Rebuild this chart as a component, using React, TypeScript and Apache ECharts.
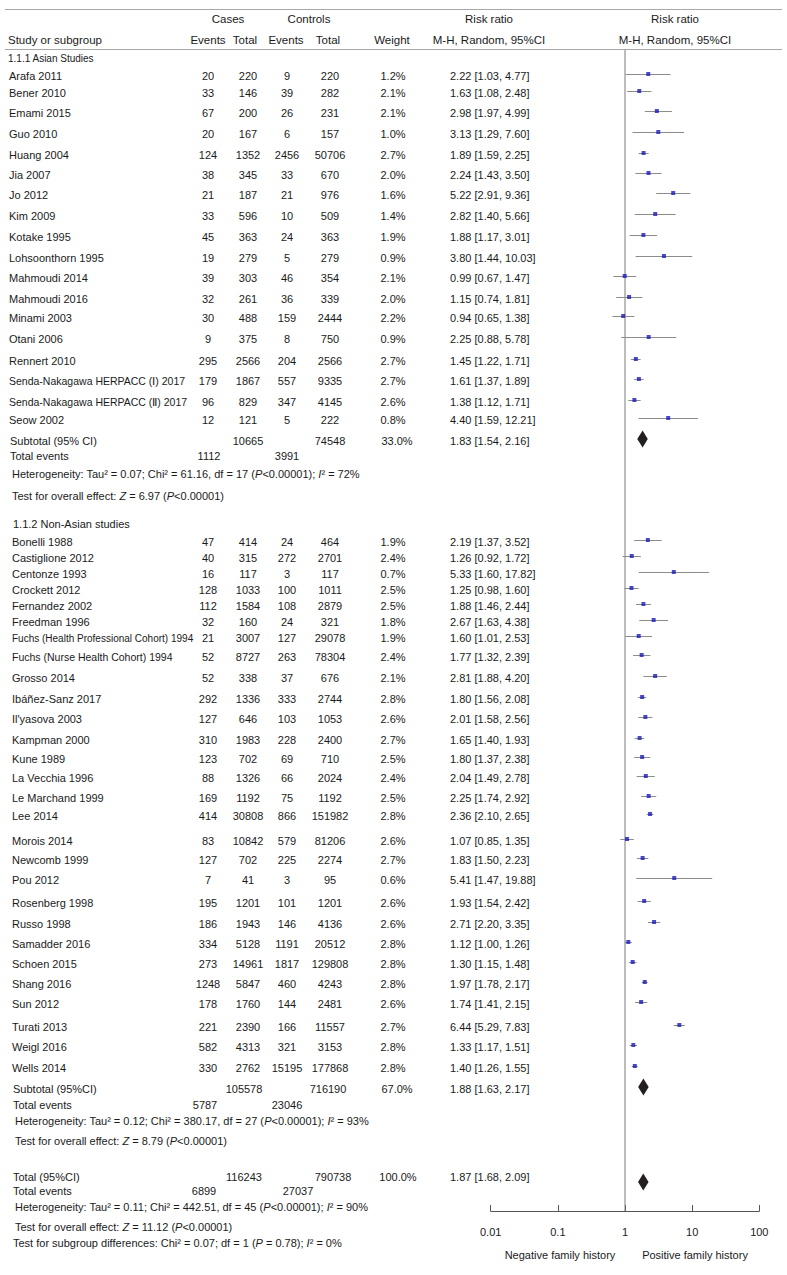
import React, { useEffect, useRef } from 'react';
import * as echarts from 'echarts';

// ---------------- DATA ----------------
const asianStudies = [
  'Arafa 2011', 'Bener 2010', 'Emami 2015', 'Guo 2010', 'Huang 2004', 'Jia 2007', 'Jo 2012',
  'Kim 2009', 'Kotake 1995', 'Lohsoonthorn 1995', 'Mahmoudi 2014', 'Mahmoudi 2016', 'Minami 2003',
  'Otani 2006', 'Rennert 2010', 'Senda-Nakagawa HERPACC (Ⅰ) 2017', 'Senda-Nakagawa HERPACC (Ⅱ) 2017', 'Seow 2002',
];
const asianCaseEvents = [20, 33, 67, 20, 124, 38, 21, 33, 45, 19, 39, 32, 30, 9, 295, 179, 96, 12];
const asianCaseTotal = [220, 146, 200, 167, 1352, 345, 187, 596, 363, 279, 303, 261, 488, 375, 2566, 1867, 829, 121];
const asianCtrlEvents = [9, 39, 26, 6, 2456, 33, 21, 10, 24, 5, 46, 36, 159, 8, 204, 557, 347, 5];
const asianCtrlTotal = [220, 282, 231, 157, 50706, 670, 976, 509, 363, 279, 354, 339, 2444, 750, 2566, 9335, 4145, 222];
const asianWeight = [1.2, 2.1, 2.1, 1.0, 2.7, 2.0, 1.6, 1.4, 1.9, 0.9, 2.1, 2.0, 2.2, 0.9, 2.7, 2.7, 2.6, 0.8];
const asianRR = [2.22, 1.63, 2.98, 3.13, 1.89, 2.24, 5.22, 2.82, 1.88, 3.80, 0.99, 1.15, 0.94, 2.25, 1.45, 1.61, 1.38, 4.40];
const asianLo = [1.03, 1.08, 1.97, 1.29, 1.59, 1.43, 2.91, 1.40, 1.17, 1.44, 0.67, 0.74, 0.65, 0.88, 1.22, 1.37, 1.12, 1.59];
const asianHi = [4.77, 2.48, 4.99, 7.60, 2.25, 3.50, 9.36, 5.66, 3.01, 10.03, 1.47, 1.81, 1.38, 5.78, 1.71, 1.89, 1.71, 12.21];

const nonAsianStudies = [
  'Bonelli 1988', 'Castiglione 2012', 'Centonze 1993', 'Crockett 2012', 'Fernandez 2002', 'Freedman 1996',
  'Fuchs (Health Professional Cohort) 1994', 'Fuchs (Nurse Health Cohort) 1994', 'Grosso 2014', 'Ibáñez-Sanz 2017',
  "Il'yasova 2003", 'Kampman 2000', 'Kune 1989', 'La Vecchia 1996', 'Le Marchand 1999', 'Lee 2014', 'Morois 2014',
  'Newcomb 1999', 'Pou 2012', 'Rosenberg 1998', 'Russo 1998', 'Samadder 2016', 'Schoen 2015', 'Shang 2016',
  'Sun 2012', 'Turati 2013', 'Weigl 2016', 'Wells 2014',
];
const nonAsianCaseEvents = [47, 40, 16, 128, 112, 32, 21, 52, 52, 292, 127, 310, 123, 88, 169, 414, 83, 127, 7, 195, 186, 334, 273, 1248, 178, 221, 582, 330];
const nonAsianCaseTotal = [414, 315, 117, 1033, 1584, 160, 3007, 8727, 338, 1336, 646, 1983, 702, 1326, 1192, 30808, 10842, 702, 41, 1201, 1943, 5128, 14961, 5847, 1760, 2390, 4313, 2762];
const nonAsianCtrlEvents = [24, 272, 3, 100, 108, 24, 127, 263, 37, 333, 103, 228, 69, 66, 75, 866, 579, 225, 3, 101, 146, 1191, 1817, 460, 144, 166, 321, 15195];
const nonAsianCtrlTotal = [464, 2701, 117, 1011, 2879, 321, 29078, 78304, 676, 2744, 1053, 2400, 710, 2024, 1192, 151982, 81206, 2274, 95, 1201, 4136, 20512, 129808, 4243, 2481, 11557, 3153, 177868];
const nonAsianWeight = [1.9, 2.4, 0.7, 2.5, 2.5, 1.8, 1.9, 2.4, 2.1, 2.8, 2.6, 2.7, 2.5, 2.4, 2.5, 2.8, 2.6, 2.7, 0.6, 2.6, 2.6, 2.8, 2.8, 2.8, 2.6, 2.7, 2.8, 2.8];
const nonAsianRR = [2.19, 1.26, 5.33, 1.25, 1.88, 2.67, 1.60, 1.77, 2.81, 1.80, 2.01, 1.65, 1.80, 2.04, 2.25, 2.36, 1.07, 1.83, 5.41, 1.93, 2.71, 1.12, 1.30, 1.97, 1.74, 6.44, 1.33, 1.40];
const nonAsianLo = [1.37, 0.92, 1.60, 0.98, 1.46, 1.63, 1.01, 1.32, 1.88, 1.56, 1.58, 1.40, 1.37, 1.49, 1.74, 2.10, 0.85, 1.50, 1.47, 1.54, 2.20, 1.00, 1.15, 1.78, 1.41, 5.29, 1.17, 1.26];
const nonAsianHi = [3.52, 1.72, 17.82, 1.60, 2.44, 4.38, 2.53, 2.39, 4.20, 2.08, 2.56, 1.93, 2.38, 2.78, 2.92, 2.65, 1.35, 2.23, 19.88, 2.42, 3.35, 1.26, 1.48, 2.17, 2.15, 7.83, 1.51, 1.55];

// summaries: [Asian subtotal, Non-Asian subtotal, Overall]
const summaryLabels = ['Subtotal (95% CI)', 'Subtotal (95%CI)', 'Total (95%CI)'];
const summaryCaseTotal = [10665, 105578, 116243];
const summaryCtrlTotal = [74548, 716190, 790738];
const summaryWeight = [33.0, 67.0, 100.0];
const summaryRR = [1.83, 1.88, 1.87];
const summaryLo = [1.54, 1.63, 1.68];
const summaryHi = [2.16, 2.17, 2.09];
const summaryCaseEvents = [1112, 5787, 6899];
const summaryCtrlEvents = [3991, 23046, 27037];
const heterogeneity = [
  'Heterogeneity: Tau² = 0.07; Chi² = 61.16, df = 17 ({i|P}<0.00001); {i|I}² = 72%',
  'Heterogeneity: Tau² = 0.12; Chi² = 380.17, df = 27 ({i|P}<0.00001); {i|I}² = 93%',
  'Heterogeneity: Tau² = 0.11; Chi² = 442.51, df = 45 ({i|P}<0.00001); {i|I}² = 90%',
];
const overallEffect = [
  'Test for overall effect: {i|Z} = 6.97 ({i|P}<0.00001)',
  'Test for overall effect: {i|Z} = 8.79 ({i|P}<0.00001)',
  'Test for overall effect: {i|Z} = 11.12 ({i|P}<0.00001)',
];
const subgroupTest = 'Test for subgroup differences: Chi² = 0.07; df = 1 ({i|P} = 0.78); {i|I}² = 0%';
const groupHeadings = ['1.1.1 Asian Studies', '1.1.2 Non-Asian studies'];
const xTicks = [0.01, 0.1, 1, 10, 100];

// ---------------- LAYOUT ----------------
const ASIAN_ROW_Y = [74, 91, 111, 132, 153, 173, 193, 214, 235, 256, 276, 297, 316, 337, 359, 379, 400, 418];
const NONASIAN_ROW_Y = [540, 556, 572, 588, 604, 620, 636, 655, 676, 697, 717, 738, 757, 776, 796, 814, 839, 858, 878, 901, 922, 942, 962, 982, 1002, 1025, 1045, 1066];
const SUMMARY_DIAMOND_Y = [439, 1087, 1182];
const SUMMARY_TEXT = [
  { x: 10, sub: 441, ev: 456, het: 474, test: 496, caseTot: 248, ctrlTot: 330, w: 397, caseEv: 209, ctrlEv: 287 },
  { x: 13, sub: 1089, ev: 1105, het: 1121, test: 1141, caseTot: 244, ctrlTot: 328, w: 397, caseEv: 205, ctrlEv: 287 },
  { x: 13, sub: 1177, ev: 1191, het: 1207, test: 1227, caseTot: 244, ctrlTot: 333, w: 398, caseEv: 204, ctrlEv: 298 },
];
const SUBGROUP_Y = 1243;
const COL = { caseEv: 208, caseTot: 248, ctrlEv: 287, ctrlTot: 330, weight: 393, rr: 450 };
const AXIS_Y = 1211;
const W = 787;
const H = 1275;
const FONT = '"Liberation Sans", Arial, sans-serif';
const TEXT = '#1a1a1a';
const DIAMOND_MIN_W = 10.5;
const DIAMOND_HALF_H = 8.5;

const rich = {
  i: { fontStyle: 'italic', fontSize: 11, fontFamily: FONT, fill: TEXT },
};

function txt(text: string, x: number, y: number, o: any = {}) {
  return {
    type: 'text',
    x,
    y,
    silent: true,
    style: {
      text,
      fill: TEXT,
      fontSize: o.size ?? 11,
      fontFamily: FONT,
      align: o.align ?? 'left',
      verticalAlign: 'middle',
      rich: o.rich,
    },
  };
}

const rrText = (r: number, l: number, h: number) => `${r.toFixed(2)} [${l.toFixed(2)}, ${h.toFixed(2)}]`;

function buildOption() {
  const graphic: any[] = [];
  // header rules
  graphic.push({ type: 'line', silent: true, shape: { x1: 5, y1: 9.5, x2: 782, y2: 9.5 }, style: { stroke: '#a8a8a8', lineWidth: 1 } });
  graphic.push({ type: 'line', silent: true, shape: { x1: 5, y1: 49.5, x2: 782, y2: 49.5 }, style: { stroke: '#a8a8a8', lineWidth: 1 } });
  const hs = 11.5;
  graphic.push(txt('Cases', 228, 19, { align: 'center', size: hs }));
  graphic.push(txt('Controls', 309, 19, { align: 'center', size: hs }));
  graphic.push(txt('Risk ratio', 489, 19, { align: 'center', size: hs }));
  graphic.push(txt('Risk ratio', 675, 19, { align: 'center', size: hs }));
  graphic.push(txt('Study or subgroup', 8, 40, { size: hs }));
  graphic.push(txt('Events', 208, 40, { align: 'center', size: hs }));
  graphic.push(txt('Total', 245, 40, { align: 'center', size: hs }));
  graphic.push(txt('Events', 286, 40, { align: 'center', size: hs }));
  graphic.push(txt('Total', 328, 40, { align: 'center', size: hs }));
  graphic.push(txt('Weight', 392, 40, { align: 'center', size: hs }));
  graphic.push(txt('M-H, Random, 95%CI', 489, 40, { align: 'center', size: hs }));
  graphic.push(txt('M-H, Random, 95%CI', 675, 40, { align: 'center', size: hs }));

  graphic.push(txt(groupHeadings[0], 8, 58, { size: 10 }));
  graphic.push(txt(groupHeadings[1], 13, 524, { size: 11 }));

  const addStudies = (names: string[], ce: number[], ct: number[], oe: number[], ot: number[], w: number[], rr: number[], lo: number[], hi: number[], ys: number[], nameX: number) => {
    names.forEach((n, i) => {
      const y = ys[i] + 2;
      const size = n.length > 36 ? 10 : n.length > 28 ? 10.5 : 11;
      graphic.push(txt(n, nameX, y, { size }));
      graphic.push(txt(String(ce[i]), COL.caseEv, y, { align: 'center' }));
      graphic.push(txt(String(ct[i]), COL.caseTot, y, { align: 'center' }));
      graphic.push(txt(String(oe[i]), COL.ctrlEv, y, { align: 'center' }));
      graphic.push(txt(String(ot[i]), COL.ctrlTot, y, { align: 'center' }));
      graphic.push(txt(`${w[i].toFixed(1)}%`, COL.weight, y, { align: 'center' }));
      graphic.push(txt(rrText(rr[i], lo[i], hi[i]), COL.rr, y));
    });
  };
  addStudies(asianStudies, asianCaseEvents, asianCaseTotal, asianCtrlEvents, asianCtrlTotal, asianWeight, asianRR, asianLo, asianHi, ASIAN_ROW_Y, 9);
  addStudies(nonAsianStudies, nonAsianCaseEvents, nonAsianCaseTotal, nonAsianCtrlEvents, nonAsianCtrlTotal, nonAsianWeight, nonAsianRR, nonAsianLo, nonAsianHi, NONASIAN_ROW_Y, 12);

  SUMMARY_TEXT.forEach((s, i) => {
    graphic.push(txt(summaryLabels[i], s.x, s.sub));
    graphic.push(txt(String(summaryCaseTotal[i]), s.caseTot, s.sub, { align: 'center' }));
    graphic.push(txt(String(summaryCtrlTotal[i]), s.ctrlTot, s.sub, { align: 'center' }));
    graphic.push(txt(`${summaryWeight[i].toFixed(1)}%`, s.w, s.sub, { align: 'center' }));
    graphic.push(txt(rrText(summaryRR[i], summaryLo[i], summaryHi[i]), COL.rr, s.sub));
    graphic.push(txt('Total events', s.x, s.ev));
    graphic.push(txt(String(summaryCaseEvents[i]), s.caseEv, s.ev, { align: 'center' }));
    graphic.push(txt(String(summaryCtrlEvents[i]), s.ctrlEv, s.ev, { align: 'center' }));
    graphic.push(txt(heterogeneity[i], s.x + 2, s.het, { rich }));
    graphic.push(txt(overallEffect[i], s.x + 2, s.test, { rich }));
  });
  graphic.push(txt(subgroupTest, 13, SUBGROUP_Y, { rich }));

  graphic.push(txt('Negative family history', 560, 1255, { align: 'center' }));
  graphic.push(txt('Positive family history', 695, 1255, { align: 'center' }));

  const studyRR = [...asianRR, ...nonAsianRR];
  const studyLo = [...asianLo, ...nonAsianLo];
  const studyHi = [...asianHi, ...nonAsianHi];
  const studyY = [...ASIAN_ROW_Y, ...NONASIAN_ROW_Y];

  return {
    animation: false,
    backgroundColor: '#ffffff',
    grid: { left: 490.7, right: W - 759.3, top: 0, bottom: H - AXIS_Y, containLabel: false },
    xAxis: {
      type: 'log',
      logBase: 10,
      position: 'bottom',
      min: xTicks[0],
      max: xTicks[xTicks.length - 1],
      axisLine: { show: true, onZero: false, lineStyle: { color: '#555', width: 1 } },
      axisTick: { show: true, inside: true, length: 6, lineStyle: { color: '#555' } },
      axisLabel: {
        margin: 15,
        fontSize: 11,
        fontFamily: FONT,
        color: TEXT,
        formatter: (v: number) => String(parseFloat(Number(v).toPrecision(2))),
      },
      splitLine: { show: false },
      minorTick: { show: false },
    },
    yAxis: { type: 'value', min: 0, max: AXIS_Y, inverse: true, show: false },
    graphic,
    series: [
      {
        type: 'line',
        data: [[1, 50], [1, AXIS_Y]],
        showSymbol: false,
        symbol: 'none',
        silent: true,
        lineStyle: { color: '#7a7a7a', width: 1 },
        z: 1,
      },
      {
        type: 'custom',
        silent: true,
        encode: { x: [0, 1], y: 2 },
        data: studyRR.map((_, i) => [studyLo[i], studyHi[i], studyY[i]]),
        renderItem: (params: any, api: any) => {
          const p1 = api.coord([api.value(0), api.value(2)]);
          const p2 = api.coord([api.value(1), api.value(2)]);
          return {
            type: 'line',
            shape: { x1: p1[0], y1: Math.round(p1[1]) + 0.5, x2: p2[0], y2: Math.round(p2[1]) + 0.5 },
            style: { stroke: '#8c8c8c', lineWidth: 1 },
          };
        },
        z: 2,
      },
      {
        type: 'scatter',
        silent: true,
        symbol: 'rect',
        symbolSize: 4,
        itemStyle: { color: '#1c1cb8' },
        data: studyRR.map((r, i) => [r, studyY[i]]),
        z: 3,
      },
      {
        type: 'custom',
        silent: true,
        encode: { x: [0, 1, 2], y: 3 },
        data: summaryRR.map((r, i) => [r, summaryLo[i], summaryHi[i], SUMMARY_DIAMOND_Y[i]]),
        renderItem: (params: any, api: any) => {
          const c = api.coord([api.value(0), api.value(3)]);
          let lx = api.coord([api.value(1), api.value(3)])[0];
          let hx = api.coord([api.value(2), api.value(3)])[0];
          const wdt = hx - lx;
          if (wdt < DIAMOND_MIN_W) {
            const extra = (DIAMOND_MIN_W - wdt) / 2;
            lx -= extra;
            hx += extra;
          }
          return {
            type: 'polygon',
            shape: { points: [[lx, c[1]], [c[0], c[1] - DIAMOND_HALF_H], [hx, c[1]], [c[0], c[1] + DIAMOND_HALF_H]] },
            style: { fill: '#231f20' },
          };
        },
        z: 3,
      },
    ],
  };
}

export default function App() {
  const ref = useRef<HTMLDivElement>(null);
  useEffect(() => {
    if (!ref.current) return;
    const chart = echarts.init(ref.current, null, { renderer: 'svg' });
    chart.setOption(buildOption() as any);
    return () => chart.dispose();
  }, []);
  return (
    <div
      ref={ref}
      style={{ position: 'absolute', left: 0, top: 0, width: W, height: H, background: '#fff' }}
    />
  );
}
